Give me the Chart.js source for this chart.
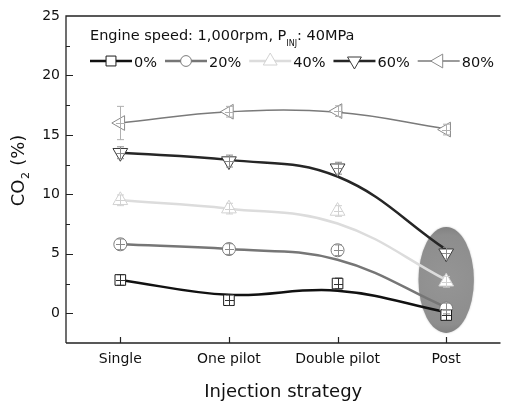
<!DOCTYPE html>
<html>
<head>
<meta charset="utf-8">
<script src="https://cdn.jsdelivr.net/npm/chart.js@4.4.1/dist/chart.umd.min.js"></script>
<style>
  html, body { margin: 0; padding: 0; background: #fff; }
  #wrap { width: 510px; height: 405px; position: relative; }
</style>
</head>
<body>
<div id="wrap"><canvas id="co2Chart"></canvas></div>
<script>
// Injection strategies on the x axis
const strategies = ['Single', 'One pilot', 'Double pilot', 'Post'];

// Measured CO2 (%) at each strategy, one array per EGR rate
const co2_0 = [2.8, 1.1, 2.5, -0.15];
const co2_20 = [5.8, 5.4, 5.3, 0.4];
const co2_40 = [9.5, 8.8, 8.6, 2.65];
const co2_60 = [13.5, 12.8, 12.2, 5.05];
const co2_80 = [16.0, 16.95, 17.0, 15.45];

// Smoothed trend lines at each strategy
const trend_0 = [2.8, 1.55, 1.9, 0.1];
const trend_20 = [5.8, 5.4, 4.5, 0.5];
const trend_40 = [9.5, 8.8, 7.55, 2.8];
const trend_60 = [13.5, 12.9, 11.5, 5.35];
const trend_80 = [16.0, 16.95, 16.9, 15.5];

// Error bar half-widths
const err_0 = [0.45, 0.45, 0.45, 0.45];
const err_20 = [0.45, 0.45, 0.45, 0.45];
const err_40 = [0.45, 0.45, 0.45, 0.45];
const err_60 = [0.5, 0.5, 0.5, 0.5];
const err_80 = [1.4, 0.45, 0.45, 0.45];

// Y axis range and tick labels
const yMin = -2.5;
const yMax = 25;
const yLabels = [0, 5, 10, 15, 20, 25];

// Highlighted region around the Post values
const highlight = { index: 3, center: 2.8, halfHeight: 4.45 };

const FONT = "'DejaVu Sans', Verdana, sans-serif";

const series = [
  { label: '0%', data: co2_0, trend: trend_0, err: err_0, line: '#111111', mark: '#1a1a1a', bar: '#333333', width: 2.5, style: 'rect', rot: 0, r: 7.5 },
  { label: '20%', data: co2_20, trend: trend_20, err: err_20, line: '#767676', mark: '#7a7a7a', bar: '#8a8a8a', width: 2.5, style: 'circle', rot: 0, r: 6.5 },
  { label: '40%', data: co2_40, trend: trend_40, err: err_40, line: '#dcdcdc', mark: '#d2d2d2', bar: '#d2d2d2', width: 2.5, style: 'triangle', rot: 0, r: 8.5 },
  { label: '60%', data: co2_60, trend: trend_60, err: err_60, line: '#262626', mark: '#3a3a3a', bar: '#8a8a8a', width: 2.5, style: 'triangle', rot: 180, r: 8.5 },
  { label: '80%', data: co2_80, trend: trend_80, err: err_80, line: '#7a7a7a', mark: '#8a8a8a', bar: '#b0b0b0', width: 1.5, style: 'triangle', rot: 270, r: 8.5 }
];

// Build the datasets: a smooth trend line plus the open markers
const datasets = [];
series.forEach(s => {
  datasets.push({
    label: s.label + ' trend',
    data: s.trend,
    borderColor: s.line,
    borderWidth: s.width,
    pointRadius: 0,
    tension: 0.4,
    fill: false,
    order: 2
  });
});
series.forEach(s => {
  datasets.push({
    label: s.label,
    data: s.data,
    showLine: false,
    pointStyle: s.style,
    rotation: s.rot,
    pointRadius: s.r,
    pointBackgroundColor: '#ffffff',
    pointBorderColor: s.mark,
    pointBorderWidth: 1,
    order: 1
  });
});

// Grey ellipse behind the Post points
const ellipsePlugin = {
  id: 'ellipse',
  beforeDatasetsDraw(chart) {
    const { ctx, scales: { x, y } } = chart;
    const cx = x.getPixelForValue(highlight.index);
    const cy = y.getPixelForValue(highlight.center);
    const ry = Math.abs(y.getPixelForValue(highlight.center + highlight.halfHeight) - cy);
    const rx = (x.getPixelForValue(1) - x.getPixelForValue(0)) * 0.255;
    ctx.save();
    ctx.beginPath();
    ctx.ellipse(cx, cy, rx, ry, 0, 0, Math.PI * 2);
    const g = ctx.createRadialGradient(cx, cy, 0, cx, cy, ry);
    g.addColorStop(0, '#959595');
    g.addColorStop(0.85, '#8d8d8d');
    g.addColorStop(1, '#828282');
    ctx.fillStyle = g;
    ctx.shadowColor = 'rgba(0,0,0,0.25)';
    ctx.shadowBlur = 2;
    ctx.fill();
    ctx.restore();
  }
};

// Error bars drawn as a small cross with caps on every marker
const errorPlugin = {
  id: 'errorBars',
  afterDatasetsDraw(chart) {
    const { ctx, scales: { x, y } } = chart;
    ctx.save();
    ctx.lineWidth = 1;
    series.forEach(s => {
      ctx.strokeStyle = s.bar;
      s.data.forEach((v, i) => {
        const px = Math.round(x.getPixelForValue(i)) + 0.5;
        const top = y.getPixelForValue(v + s.err[i]);
        const bot = y.getPixelForValue(v - s.err[i]);
        const py = Math.round(y.getPixelForValue(v)) + 0.5;
        ctx.beginPath();
        ctx.moveTo(px, top); ctx.lineTo(px, bot);
        ctx.moveTo(px - 3.5, top); ctx.lineTo(px + 3.5, top);
        ctx.moveTo(px - 3.5, bot); ctx.lineTo(px + 3.5, bot);
        ctx.moveTo(px - 4.5, py); ctx.lineTo(px + 4.5, py);
        ctx.stroke();
      });
    });
    ctx.restore();
  }
};

function drawMarkerPath(ctx, s, cx, cy, r) {
  if (s.style === 'rect') {
    const h = r * Math.SQRT1_2;
    ctx.rect(cx - h, cy - h, 2 * h, 2 * h);
  } else if (s.style === 'circle') {
    ctx.arc(cx, cy, r * 0.9, 0, Math.PI * 2);
  } else {
    const rad = s.rot * Math.PI / 180;
    for (let k = 0; k < 3; k++) {
      const ang = rad - Math.PI / 2 + k * 2 * Math.PI / 3;
      const px = cx + Math.cos(ang) * r;
      const py = cy + Math.sin(ang) * r;
      if (k === 0) ctx.moveTo(px, py); else ctx.lineTo(px, py);
    }
    ctx.closePath();
  }
}

// Frame, inward ticks, axis titles and the in-plot legend
const decorPlugin = {
  id: 'decor',
  afterDraw(chart) {
    const { ctx, chartArea: a, scales: { x, y } } = chart;
    ctx.save();
    ctx.strokeStyle = '#222';
    ctx.lineWidth = 1.3;
    ctx.beginPath();
    ctx.moveTo(a.left, a.bottom); ctx.lineTo(a.left, a.top); ctx.lineTo(a.right, a.top);
    ctx.moveTo(a.left, a.bottom); ctx.lineTo(a.right, a.bottom);
    ctx.stroke();

    // ticks pointing into the plot
    ctx.lineWidth = 1.2;
    ctx.beginPath();
    for (let v = yMin + 2.5; v <= yMax - 2.5; v += 2.5) {
      const py = Math.round(y.getPixelForValue(v)) + 0.5;
      const len = (v % 5 === 0) ? 7 : 4;
      ctx.moveTo(a.left, py); ctx.lineTo(a.left + len, py);
    }
    strategies.forEach((c, i) => {
      const px = Math.round(x.getPixelForValue(i)) + 0.5;
      ctx.moveTo(px, a.bottom); ctx.lineTo(px, a.bottom - 6);
    });
    ctx.stroke();

    ctx.fillStyle = '#111';
    // x axis title
    ctx.font = '18px ' + FONT;
    ctx.textAlign = 'center';
    ctx.textBaseline = 'alphabetic';
    ctx.fillText('Injection strategy', (a.left + a.right) / 2, 397);

    // y axis title with subscript
    ctx.save();
    ctx.translate(24, 171);
    ctx.rotate(-Math.PI / 2);
    ctx.textAlign = 'left';
    const w1 = ctx.measureText('CO').width;
    ctx.font = '11px ' + FONT;
    const w2 = ctx.measureText('2').width;
    ctx.font = '18px ' + FONT;
    const w3 = ctx.measureText(' (%)').width;
    const sx = -(w1 + w2 + w3) / 2;
    ctx.fillText('CO', sx, 0);
    ctx.font = '11px ' + FONT;
    ctx.fillText('2', sx + w1 + 0.5, 5);
    ctx.font = '18px ' + FONT;
    ctx.fillText(' (%)', sx + w1 + w2 + 1, 0);
    ctx.restore();

    // legend title
    ctx.textAlign = 'left';
    ctx.font = '14.5px ' + FONT;
    let tx = 90;
    ctx.fillText('Engine speed: 1,000rpm, P', tx, 40);
    tx += ctx.measureText('Engine speed: 1,000rpm, P').width;
    ctx.font = '8px ' + FONT;
    ctx.fillText('INJ', tx, 46);
    tx += ctx.measureText('INJ').width;
    ctx.font = '14.5px ' + FONT;
    ctx.fillText(': 40MPa', tx, 40);

    // legend entries
    let lx = 90;
    const ly = 61;
    series.forEach(s => {
      ctx.strokeStyle = s.line;
      ctx.lineWidth = s.width;
      ctx.beginPath();
      ctx.moveTo(lx, ly); ctx.lineTo(lx + 42, ly);
      ctx.stroke();
      ctx.fillStyle = '#ffffff';
      ctx.strokeStyle = s.mark;
      ctx.lineWidth = 1;
      ctx.beginPath();
      drawMarkerPath(ctx, s, lx + 21, ly, s.r - 0.5);
      ctx.fill();
      ctx.stroke();
      ctx.fillStyle = '#111';
      ctx.font = '14.5px ' + FONT;
      ctx.fillText(s.label, lx + 44, 67);
      lx += 44 + ctx.measureText(s.label).width + 8;
    });
    ctx.restore();
  }
};

const ctx = document.getElementById('co2Chart').getContext('2d');
new Chart(ctx, {
  type: 'line',
  data: { labels: strategies, datasets: datasets },
  options: {
    responsive: true,
    maintainAspectRatio: false,
    animation: false,
    layout: { padding: { top: 16, right: 0, left: 0, bottom: 0 } },
    plugins: { legend: { display: false }, tooltip: { enabled: false } },
    scales: {
      x: {
        offset: true,
        grid: { display: false },
        border: { display: false },
        ticks: { color: '#111', font: { family: FONT, size: 14 }, padding: 0, maxRotation: 0 },
        afterFit(scale) { scale.height = 62; }
      },
      y: {
        min: yMin,
        max: yMax,
        grid: { display: false },
        border: { display: false },
        ticks: {
          stepSize: 2.5,
          color: '#111',
          font: { family: FONT, size: 14 },
          padding: -2,
          callback: v => yLabels.includes(v) ? String(v) : ''
        },
        afterFit(scale) { scale.width = 66; }
      }
    }
  },
  plugins: [ellipsePlugin, errorPlugin, decorPlugin]
});
</script>
</body>
</html>
